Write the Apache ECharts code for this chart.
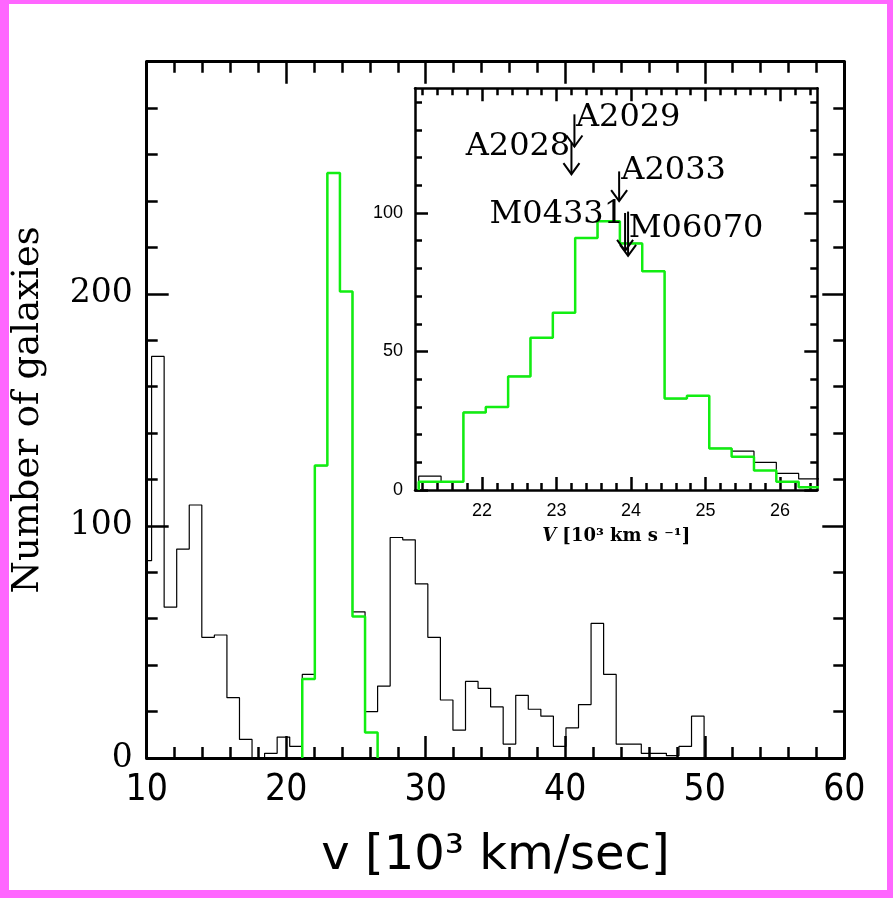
<!DOCTYPE html>
<html>
<head>
<meta charset="utf-8">
<script src="https://cdn.jsdelivr.net/npm/echarts@6/dist/echarts.min.js"></script>
<style>
html,body{margin:0;padding:0;background:#fff;}
#chart{width:893px;height:898px;}
</style>
</head>
<body>
<div id="chart"></div>
<script>
// ---- Main histogram (bins of 0.9 x 10^3 km/s) ----
var mainBinStart = 9.45;
var mainBinWidth = 0.9;
var allCounts = [85,173,65,90,109,52,53,26,8,0,2,9,5,36,126,252,201,63,20,31,95,94,75,52,25,12,33,30,22,6,27,21,18,5,13,23,58,36,6,6,2,2,1,5,18];
var clusterStart = 21.15;
var clusterCounts = [34,126,252,201,61,11];

// ---- Inset histogram (bins of 0.3 x 10^3 km/s) ----
var insetBinStart = 21.15;
var insetBinWidth = 0.3;
var insetAll = [5,3,28,30,41,55,64,91,97,89,79,33,34,15,14,10,6,4];
var insetCluster = [3,3,28,30,41,55,64,91,97,89,79,33,34,15,12,7,3,1];

// ---- Axis ticks ----
var insetXMajor = [22,23,24,25,26];
var insetXMinor = [21.2,21.4,21.6,21.8,22.2,22.4,22.6,22.8,23.2,23.4,23.6,23.8,24.2,24.4,24.6,24.8,25.2,25.4,25.6,25.8,26.2,26.4];
var insetYMajor = [0,50,100];
var insetYMinor = [10,20,30,40,60,70,80,90,110,120,130,140];

// ---- Cluster annotations in the inset (data units) ----
var annoNames = ['A2029','A2028','A2033','M04331','M06070'];
var annoTextX = [23.26,21.78,23.87,22.10,23.97];
var annoTextY = [134.5,124.1,115.1,99.3,94.2];
var arrowX = [23.24,23.20,23.84,23.92,23.96];
var arrowTop = [135.6,125.3,115.0,100.0,100.5];
var arrowTip = [124.0,114.0,104.3,86.3,84.5];

function histLine(start, width, counts) {
  var pts = [[start, 0]];
  for (var i = 0; i < counts.length; i++) {
    var l = start + i * width, r = start + (i + 1) * width;
    pts.push([l, counts[i]]);
    pts.push([r, counts[i]]);
  }
  pts.push([start + counts.length * width, 0]);
  return pts;
}

var chart = echarts.init(document.getElementById('chart'), null, {renderer: 'canvas'});

var GREEN = '#11ee11';
var mainGrid = {left: 146.7, top: 61.7, width: 697.6, height: 696.3};
var insetGrid = {left: 415, top: 88.3, width: 402.3, height: 401.7};

function majorTick(len, w, custom) {
  var t = {show: true, inside: true, length: len, lineStyle: {color: '#000', width: w}};
  if (custom) t.customValues = custom;
  return t;
}

var option = {
  animation: false,
  backgroundColor: '#fff',
  grid: [
    Object.assign({containLabel: false}, mainGrid),
    Object.assign({containLabel: false}, insetGrid)
  ],
  graphic: [
    {type: 'rect', shape: {x: 0, y: 0, width: 9, height: 898}, style: {fill: '#ff66ff'}, silent: true},
    {type: 'rect', shape: {x: 0, y: 0, width: 893, height: 4}, style: {fill: '#ff66ff'}, silent: true},
    {type: 'rect', shape: {x: 887, y: 0, width: 6, height: 898}, style: {fill: '#ff66ff'}, silent: true},
    {type: 'rect', shape: {x: 0, y: 890, width: 893, height: 8}, style: {fill: '#ff66ff'}, silent: true}
  ],
  xAxis: [
    {
      gridIndex: 0, type: 'value', position: 'bottom', min: 10, max: 60, interval: 10,
      axisLine: {show: true, onZero: false, lineStyle: {color: '#000', width: 3}},
      axisTick: majorTick(22, 2.5),
      minorTick: {show: true, splitNumber: 5, length: 11, lineStyle: {color: '#000', width: 2.5}},
      splitLine: {show: false},
      axisLabel: {show: true, margin: 14, color: '#000', fontFamily: '"Liberation Sans Narrow","DejaVu Sans Condensed",sans-serif', fontSize: 37},
      name: 'v [10³ km/sec]', nameLocation: 'middle', nameGap: 75,
      nameTextStyle: {color: '#000', fontFamily: '"DejaVu Sans"', fontSize: 48}
    },
    {
      gridIndex: 0, type: 'value', position: 'top', min: 10, max: 60, interval: 10,
      axisLine: {show: true, onZero: false, lineStyle: {color: '#000', width: 3}},
      axisTick: majorTick(22, 2.5),
      minorTick: {show: true, splitNumber: 5, length: 11, lineStyle: {color: '#000', width: 2.5}},
      splitLine: {show: false}, axisLabel: {show: false}
    },
    {
      gridIndex: 1, type: 'value', position: 'bottom', min: 21.1, max: 26.5,
      axisLine: {show: true, onZero: false, lineStyle: {color: '#000', width: 2.5}},
      axisTick: majorTick(13, 2.5, insetXMajor),
      splitLine: {show: false},
      axisLabel: {show: true, customValues: insetXMajor, margin: 12, color: '#000', fontFamily: '"Liberation Sans",Arial,sans-serif', fontSize: 18},
      name: '{i|V} [10³ km s ⁻¹]', nameLocation: 'middle', nameGap: 37,
      nameTextStyle: {color: '#000', fontFamily: '"DejaVu Serif"', fontWeight: 'bold', fontSize: 18,
        rich: {i: {fontStyle: 'italic', fontWeight: 'bold', fontFamily: '"DejaVu Serif"', fontSize: 18, color: '#000'}}}
    },
    {
      gridIndex: 1, type: 'value', position: 'bottom', min: 21.1, max: 26.5,
      axisLine: {show: false, onZero: false},
      axisTick: majorTick(7, 2.5, insetXMinor),
      splitLine: {show: false}, axisLabel: {show: false}
    },
    {
      gridIndex: 1, type: 'value', position: 'top', min: 21.1, max: 26.5,
      axisLine: {show: true, onZero: false, lineStyle: {color: '#000', width: 2.5}},
      axisTick: majorTick(13, 2.5, insetXMajor),
      splitLine: {show: false}, axisLabel: {show: false}
    },
    {
      gridIndex: 1, type: 'value', position: 'top', min: 21.1, max: 26.5,
      axisLine: {show: false, onZero: false},
      axisTick: majorTick(7, 2.5, insetXMinor),
      splitLine: {show: false}, axisLabel: {show: false}
    }
  ],
  yAxis: [
    {
      gridIndex: 0, type: 'value', position: 'left', min: 0, max: 300, interval: 100,
      axisLine: {show: true, onZero: false, lineStyle: {color: '#000', width: 3}},
      axisTick: majorTick(22, 2.5),
      minorTick: {show: true, splitNumber: 5, length: 11, lineStyle: {color: '#000', width: 2.5}},
      splitLine: {show: false},
      axisLabel: {show: true, margin: 14, color: '#000', fontFamily: '"DejaVu Serif",serif', fontSize: 33,
        formatter: function (v) { return v === 300 ? '' : String(v); }},
      name: 'Number of galaxies', nameLocation: 'middle', nameGap: 100, nameRotate: 90,
      nameTextStyle: {color: '#000', fontFamily: '"DejaVu Serif",serif', fontSize: 37}
    },
    {
      gridIndex: 0, type: 'value', position: 'right', min: 0, max: 300, interval: 100,
      axisLine: {show: true, onZero: false, lineStyle: {color: '#000', width: 3}},
      axisTick: majorTick(22, 2.5),
      minorTick: {show: true, splitNumber: 5, length: 11, lineStyle: {color: '#000', width: 2.5}},
      splitLine: {show: false}, axisLabel: {show: false}
    },
    {
      gridIndex: 1, type: 'value', position: 'left', min: 0, max: 145,
      axisLine: {show: true, onZero: false, lineStyle: {color: '#000', width: 2.5}},
      axisTick: majorTick(13, 2.5, insetYMajor),
      splitLine: {show: false},
      axisLabel: {show: true, customValues: insetYMajor, margin: 12, color: '#000', fontFamily: '"Liberation Sans",Arial,sans-serif', fontSize: 18}
    },
    {
      gridIndex: 1, type: 'value', position: 'left', min: 0, max: 145,
      axisLine: {show: false, onZero: false},
      axisTick: majorTick(7, 2.5, insetYMinor),
      splitLine: {show: false}, axisLabel: {show: false}
    },
    {
      gridIndex: 1, type: 'value', position: 'right', min: 0, max: 145,
      axisLine: {show: true, onZero: false, lineStyle: {color: '#000', width: 2.5}},
      axisTick: majorTick(13, 2.5, insetYMajor),
      splitLine: {show: false}, axisLabel: {show: false}
    },
    {
      gridIndex: 1, type: 'value', position: 'right', min: 0, max: 145,
      axisLine: {show: false, onZero: false},
      axisTick: majorTick(7, 2.5, insetYMinor),
      splitLine: {show: false}, axisLabel: {show: false}
    }
  ],
  series: [
    {
      type: 'line', xAxisIndex: 0, yAxisIndex: 0, data: histLine(mainBinStart, mainBinWidth, allCounts),
      showSymbol: false, symbol: 'none', clip: true, lineStyle: {color: '#000', width: 1.2}, z: 2
    },
    {
      type: 'line', xAxisIndex: 0, yAxisIndex: 0, data: histLine(clusterStart, mainBinWidth, clusterCounts),
      showSymbol: false, symbol: 'none', clip: true, lineStyle: {color: GREEN, width: 2.5}, z: 3
    },
    {
      type: 'line', xAxisIndex: 2, yAxisIndex: 2, data: histLine(insetBinStart, insetBinWidth, insetAll),
      showSymbol: false, symbol: 'none', clip: true, lineStyle: {color: '#000', width: 1.2}, z: 2
    },
    {
      type: 'line', xAxisIndex: 2, yAxisIndex: 2, data: histLine(insetBinStart, insetBinWidth, insetCluster),
      showSymbol: false, symbol: 'none', clip: true, lineStyle: {color: GREEN, width: 2.5}, z: 3
    },
    {
      type: 'custom', xAxisIndex: 2, yAxisIndex: 2, z: 5,
      data: arrowX.map(function (x, i) { return [x, arrowTop[i], arrowTip[i]]; }),
      renderItem: function (params, api) {
        var p1 = api.coord([api.value(0), api.value(1)]);
        var p2 = api.coord([api.value(0), api.value(2)]);
        return {
          type: 'group',
          children: [
            {type: 'line', shape: {x1: p1[0], y1: p1[1], x2: p2[0], y2: p2[1]}, style: {stroke: '#000', lineWidth: 2}},
            {type: 'polyline', shape: {points: [[p2[0] - 8, p2[1] - 11], [p2[0], p2[1]], [p2[0] + 8, p2[1] - 11]]}, style: {stroke: '#000', fill: null, lineWidth: 2}}
          ]
        };
      }
    },
    {
      type: 'custom', xAxisIndex: 2, yAxisIndex: 2, z: 6,
      data: annoTextX.map(function (x, i) { return [x, annoTextY[i]]; }),
      renderItem: function (params, api) {
        var p = api.coord([api.value(0), api.value(1)]);
        return {
          type: 'text', x: p[0], y: p[1],
          style: {text: annoNames[params.dataIndex], font: '32px "DejaVu Serif", serif', fill: '#000', align: 'left', verticalAlign: 'middle'}
        };
      }
    }
  ]
};
chart.setOption(option);
</script>
</body>
</html>
